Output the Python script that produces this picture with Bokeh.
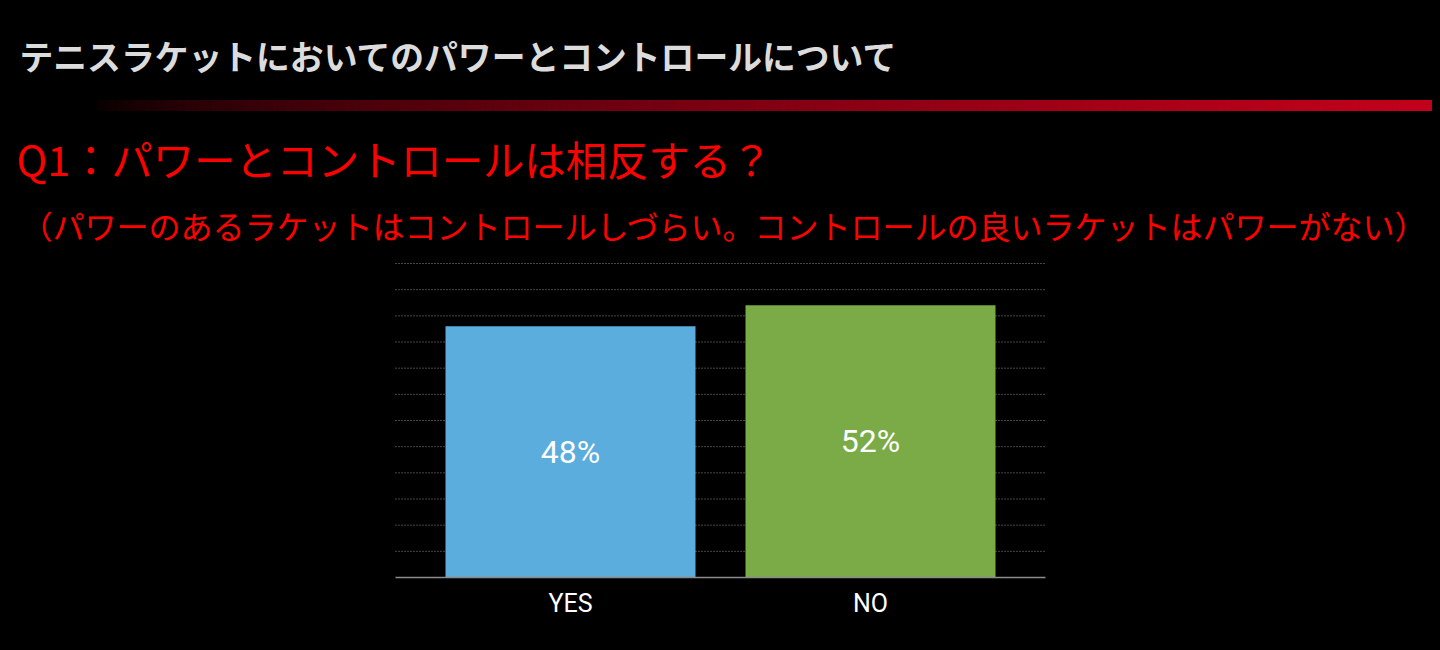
from bokeh.plotting import figure
from bokeh.models import Range1d, FactorRange, ColumnDataSource
from bokeh.core.properties import value
from bokeh.embed import file_html
from bokeh.resources import INLINE

# ---- data ----
categories = ["YES", "NO"]
percent = [48, 52]
bar_colors = ["#5aaddc", "#7aab46"]
labels = ["48%", "52%"]
y_ticks = [5, 10, 15, 20, 25, 30, 35, 40, 45, 50, 55, 60]
y_max = 60

title_text = "テニスラケットにおいてのパワーとコントロールについて"
question_text = "Q1：パワーとコントロールは相反する？"
sub_text = "（パワーのあるラケットはコントロールしづらい。コントロールの良いラケットはパワーがない）"

# ---- layout constants (canvas pixels) ----
W, H = 1424, 634
plot_left, plot_right = 387, 1037
plot_top, plot_bottom = 255, 569
cat_px = 300
BG = "#000000"

ppu = (plot_bottom - plot_top) / y_max
n_cat = len(categories)


def ux(px):  # canvas x pixel -> synthetic categorical coordinate
    return n_cat / 2 + (px - W / 2) / cat_px


def vy(py):  # canvas y pixel (from top) -> percent axis value
    return (plot_bottom - py) / ppu


x_range = FactorRange(*categories, range_padding=(W - cat_px * n_cat) / (cat_px * n_cat),
                      range_padding_units="percent")
y_range = Range1d(vy(H), vy(0))

p = figure(width=W, height=H, x_range=x_range, y_range=y_range,
           output_backend="svg", toolbar_location=None, min_border=0,
           background_fill_color=BG, border_fill_color=BG, outline_line_color=None)
p.axis.visible = False
p.grid.visible = False

# ---- header ----
n = 200
x0, x1 = 82, W
xs = [x0 + (x1 - x0) * i / n for i in range(n + 1)]
lefts, rights = xs[:-1], xs[1:]
cols = []
for xl in lefts:
    t = max(0.0, min(1.0, (xl - x0) / (x1 - x0))) ** 0.6
    cols.append("#%02x%02x%02x" % (int(round(0xc4 * t)), 0, int(round(0x1c * t))))
p.quad(left=[ux(v) for v in lefts], right=[ux(v) for v in rights],
       top=[vy(92)] * n, bottom=[vy(102)] * n, fill_color=cols, line_color=cols)

p.text(x=[ux(11)], y=[vy(47)], text=[title_text], text_font=value("Noto Sans CJK JP"),
       text_font_style="bold", text_font_size="33.8px", text_color="#dcdcdc",
       text_baseline="middle", text_align="left")
p.text(x=[ux(8)], y=[vy(149)], text=[question_text], text_font=value("Noto Sans CJK JP"),
       text_font_size="41.3px", text_color="#ff0000",
       text_baseline="middle", text_align="left")
p.text(x=[ux(12)], y=[vy(216)], text=[sub_text], text_font=value("Noto Sans CJK JP"),
       text_font_size="32px", text_color="#ff0000",
       text_baseline="middle", text_align="left")

# ---- chart ----
src = ColumnDataSource(dict(cat=categories, val=percent, half=[v / 2 for v in percent],
                            zero=[0] * n_cat, color=bar_colors, label=labels))

gx0, gx1 = ux(plot_left), ux(plot_right)
grid_src = ColumnDataSource(dict(x0=[gx0] * len(y_ticks), x1=[gx1] * len(y_ticks), y=y_ticks))
p.segment(x0="x0", x1="x1", y0="y", y1="y", source=grid_src,
          line_color="#8a8a8a", line_dash="1 2", line_width=1)

p.vbar(x="cat", top="val", bottom="zero", width=250 / cat_px, fill_color="color", line_color=None,
       source=src)

p.segment(x0=[gx0], x1=[gx1], y0=[0], y1=[0], line_color="#8c8c8c", line_width=1.5)

p.text(x="cat", y="half", text="label", source=src,
       text_font=value("Roboto"), text_font_size="32px", text_color="#ffffff",
       text_align="center", text_baseline="middle")

p.text(x="cat", y="zero", text="cat", source=src, y_offset=26,
       text_font=value("Roboto"), text_font_size="25px", text_color="#ffffff",
       text_align="center", text_baseline="middle")

html = file_html(p, INLINE)
html = html.replace("<body>", '<body style="background-color:#000000; margin:8px;">')
open("out.html", "w").write(html)
